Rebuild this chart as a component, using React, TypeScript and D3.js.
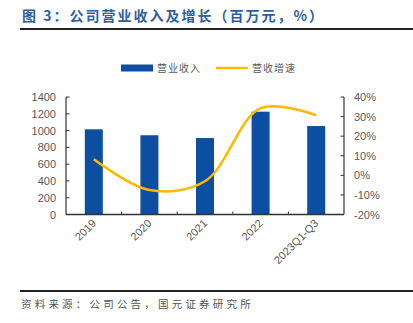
import React from "react";
import * as d3 from "d3";

const categories = ["2019", "2020", "2021", "2022", "2023Q1-Q3"];
const revenue = [1015, 944, 911, 1225, 1054];
const growth = [8.2, -7.5, -3, 34.3, 30.7];
const leftTicks = [0, 200, 400, 600, 800, 1000, 1200, 1400];
const rightTicks = [-20, -10, 0, 10, 20, 30, 40];

const W = 413;
const H = 323;
const plot = { left: 66, right: 344, top: 97, bottom: 214.5 };
const axisColor = "#333";
const labelColor = "#595959";
const barColor = "#0B4EA2";
const lineColor = "#FFB800";
const font = "'Liberation Sans', Arial, sans-serif";
const cjk = "'Noto Sans CJK SC', sans-serif";

export default function App() {
  const x = d3.scaleBand<string>().domain(categories).range([plot.left, plot.right]).paddingInner(0).paddingOuter(0);
  const yL = d3.scaleLinear().domain([0, 1400]).range([plot.bottom, plot.top]);
  const yR = d3.scaleLinear().domain([-20, 40]).range([plot.bottom, plot.top]);
  const barW = 18;
  const line = d3
    .line<number>()
    .x((_, i) => (x(categories[i]) as number) + x.bandwidth() / 2)
    .y((d) => yR(d))
    .curve(d3.curveCatmullRom.alpha(0.5));

  return (
    <svg width={W} height={H} style={{ position: "absolute", left: 0, top: 0 }}>
      <rect width={W} height={H} fill="#fff" />
      <text x={22} y={21} fontFamily={cjk} fontSize={14} fontWeight="bold" fill="#2F5E9E" letterSpacing={2}>
        图 3：公司营业收入及增长（百万元，%）
      </text>
      <line x1={20} x2={413} y1={29} y2={29} stroke="#222" strokeWidth={2} />

      {/* legend */}
      <rect x={121} y={64.5} width={32} height={7} fill={barColor} />
      <text x={157} y={71.5} fontFamily={cjk} fontSize={10} fill={labelColor} letterSpacing={1}>营业收入</text>
      <line x1={216} x2={248} y1={68} y2={68} stroke={lineColor} strokeWidth={2.5} />
      <text x={252} y={71.5} fontFamily={cjk} fontSize={10} fill={labelColor} letterSpacing={1}>营收增速</text>

      {/* bars */}
      {revenue.map((v, i) => {
        const cx = (x(categories[i]) as number) + x.bandwidth() / 2;
        return <rect key={i} x={cx - barW / 2} y={yL(v)} width={barW} height={plot.bottom - yL(v)} fill={barColor} />;
      })}

      {/* line */}
      <path d={line(growth) || ""} fill="none" stroke={lineColor} strokeWidth={2.5} />

      {/* left axis */}
      <line x1={plot.left} x2={plot.left} y1={plot.top} y2={plot.bottom} stroke={axisColor} strokeWidth={1.2} />
      {leftTicks.map((t) => (
        <g key={t}>
          <line x1={plot.left} x2={plot.left + 3.5} y1={yL(t)} y2={yL(t)} stroke={axisColor} strokeWidth={1} />
          <text x={56} y={yL(t) + 4} textAnchor="end" fontFamily={font} fontSize={11} fill={labelColor}>{t}</text>
        </g>
      ))}

      {/* right axis */}
      <line x1={plot.right} x2={plot.right} y1={plot.top} y2={plot.bottom} stroke={axisColor} strokeWidth={1.2} />
      {rightTicks.map((t) => (
        <g key={t}>
          <line x1={plot.right - 3.5} x2={plot.right} y1={yR(t)} y2={yR(t)} stroke={axisColor} strokeWidth={1} />
          <text x={354} y={yR(t) + 4} textAnchor="start" fontFamily={font} fontSize={11} fill={labelColor}>{t}%</text>
        </g>
      ))}

      {/* bottom axis */}
      <line x1={plot.left} x2={plot.right} y1={plot.bottom} y2={plot.bottom} stroke={axisColor} strokeWidth={1.5} />
      {categories.map((c, i) => {
        const bx = (x(c) as number);
        return i > 0 ? (
          <line key={"t" + c} x1={bx} x2={bx} y1={plot.bottom - 3} y2={plot.bottom} stroke={axisColor} strokeWidth={1} />
        ) : null;
      })}
      {categories.map((c) => {
        const cx = (x(c) as number) + x.bandwidth() / 2 + 3;
        const cy = 224;
        return (
          <text key={c} x={cx} y={cy} textAnchor="end" transform={`rotate(-45 ${cx} ${cy})`} fontFamily={font} fontSize={11} fill={labelColor}>
            {c}
          </text>
        );
      })}

      <line x1={20} x2={413} y1={291} y2={291} stroke="#222" strokeWidth={2} />
      <text x={21} y={308} fontFamily={cjk} fontSize={10.5} fill="#555" letterSpacing={3.2}>资料来源：公司公告，国元证券研究所</text>
    </svg>
  );
}
